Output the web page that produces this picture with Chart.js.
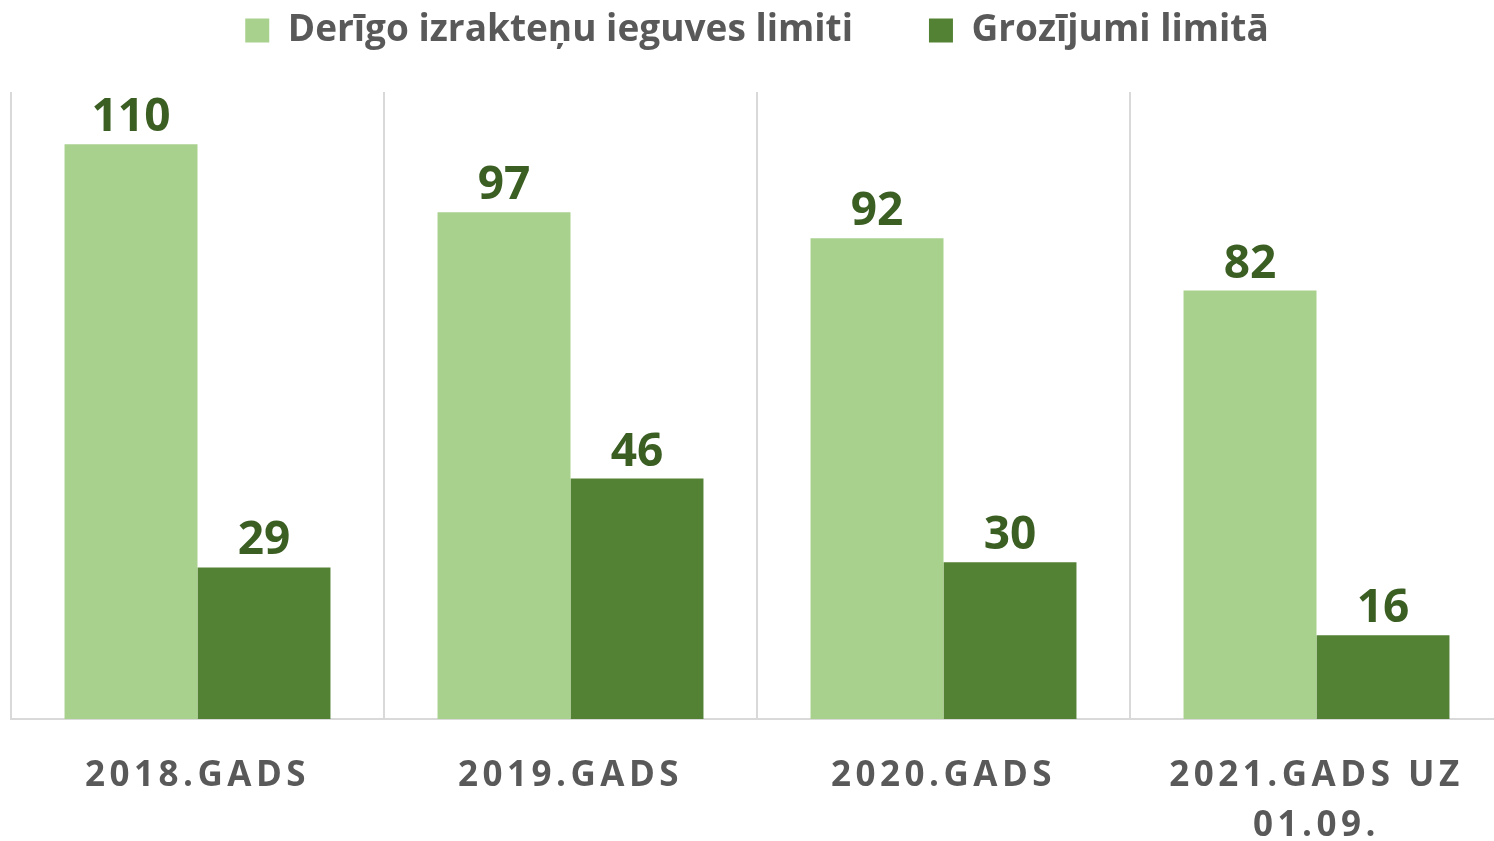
<!DOCTYPE html>
<html>
<head>
<meta charset="utf-8">
<script src="https://cdn.jsdelivr.net/npm/chart.js@4.4.1/dist/chart.umd.min.js"></script>
<style>
    html, body { margin: 0; padding: 0; background: #ffffff; overflow: hidden; }
    #wrap { position: relative; width: 1503px; height: 841px; }
</style>
</head>
<body>
<div id="wrap"><canvas id="myChart"></canvas></div>
<script>
// dati
var categories = ['2018.GADS', '2019.GADS', '2020.GADS', ['2021.GADS UZ', '01.09.']];
var limiti = [110, 97, 92, 82];
var grozijumi = [29, 46, 30, 16];

var seriesNames = ['Derīgo izrakteņu ieguves limiti', 'Grozījumi limitā'];
var colors = ['#a9d18e', '#548235'];

// vieta starp leģendu un grafiku
var legendGap = {
    id: 'legendGap',
    beforeInit: function(chart) {
        var fit = chart.legend.fit;
        chart.legend.fit = function() {
            fit.call(this);
            this.height += 33;
        };
    }
};

// burtu atstarpes x ass nosaukumiem
var tickSpacing = {
    id: 'tickSpacing',
    beforeDraw: function(chart) {
        var scale = chart.scales.x;
        if (scale._spaced) return;
        var draw = scale.drawLabels.bind(scale);
        scale.drawLabels = function(area) {
            var ctx = this.ctx;
            ctx.save();
            ctx.letterSpacing = '4.5px';
            draw(area);
            ctx.restore();
        };
        scale._spaced = true;
    }
};

// vērtības virs stabiņiem
var valueLabels = {
    id: 'valueLabels',
    afterDatasetsDraw: function(chart) {
        var ctx = chart.ctx;
        ctx.save();
        ctx.font = 'bold 46px "Open Sans"';
        ctx.fillStyle = '#3b5e23';
        ctx.textAlign = 'center';
        ctx.textBaseline = 'alphabetic';
        chart.data.datasets.forEach(function(ds, i) {
            chart.getDatasetMeta(i).data.forEach(function(bar, j) {
                ctx.fillText(ds.data[j], bar.x, bar.y - 13);
            });
        });
        ctx.restore();
    }
};

document.addEventListener("DOMContentLoaded", function() {
    var ctx = document.getElementById('myChart').getContext('2d');
    var chart = new Chart(ctx, {
        type: 'bar',
        data: {
            labels: categories,
            datasets: [{
                label: seriesNames[0],
                data: limiti,
                backgroundColor: colors[0],
                categoryPercentage: 0.713,
                barPercentage: 1
            }, {
                label: seriesNames[1],
                data: grozijumi,
                backgroundColor: colors[1],
                categoryPercentage: 0.713,
                barPercentage: 1
            }]
        },
        plugins: [legendGap, tickSpacing, valueLabels],
        options: {
            responsive: true,
            maintainAspectRatio: false,
            animation: false,
            layout: {
                padding: { top: -64, left: 11, right: 0, bottom: -42 }
            },
            plugins: {
                legend: {
                    position: 'top',
                    labels: {
                        boxWidth: 24,
                        boxHeight: 24,
                        padding: 76,
                        color: '#595959',
                        font: { family: '"Open Sans"', size: 37, weight: 'bold' }
                    }
                },
                tooltip: { enabled: false }
            },
            scales: {
                x: {
                    grid: {
                        display: true,
                        offset: true,
                        drawTicks: false,
                        color: '#d9d9d9',
                        lineWidth: 2
                    },
                    border: { display: true, color: '#d9d9d9', width: 2 },
                    ticks: {
                        color: '#595959',
                        padding: 32,
                        maxRotation: 0,
                        autoSkip: false,
                        font: { family: '"Open Sans"', size: 35, weight: 'bold', lineHeight: 1.43 }
                    }
                },
                y: {
                    display: false,
                    min: 0,
                    max: 120
                }
            }
        }
    });
});
</script>
</body>
</html>
